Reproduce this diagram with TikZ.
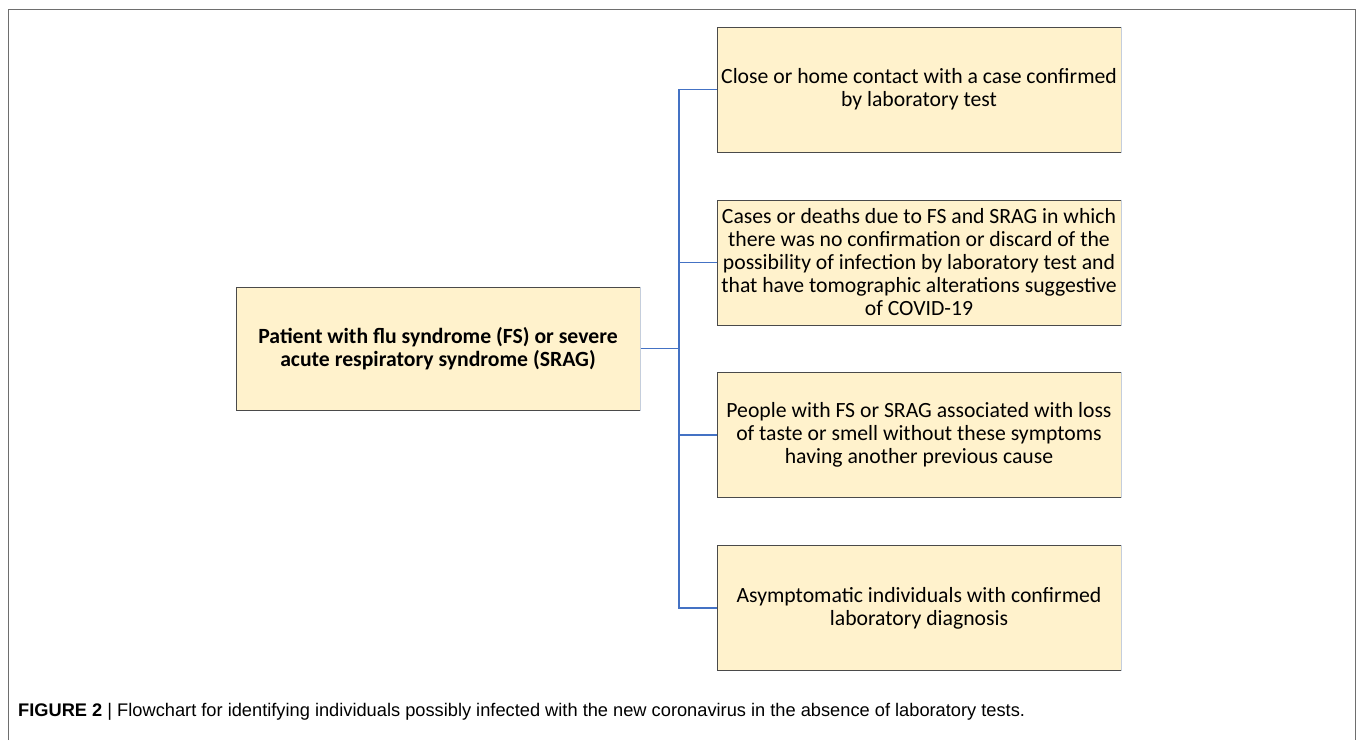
\documentclass[tikz,border=0pt]{standalone}
\usepackage{fontspec}
\setmainfont{Carlito}
\newfontfamily\capfont{Liberation Sans}
\usetikzlibrary{positioning}
\definecolor{boxfill}{HTML}{FFF2CC}
\definecolor{boxedge}{HTML}{4A4A4A}
\definecolor{sideedge}{HTML}{C5CEDC}
\definecolor{linkblue}{HTML}{4472C4}
\definecolor{framegray}{HTML}{6E6E6E}
\tikzset{
 topic/.style={fill=boxfill,draw=boxedge,line width=1pt,minimum width=404pt,
  align=center,inner sep=0pt,font=\fontsize{21.7}{23}\selectfont},
 link/.style={draw=linkblue,line width=1.2pt},
}

\begin{document}
\begin{tikzpicture}[x=1pt,y=-1pt]
 \useasboundingbox (0,0) rectangle (1358,740);
 \draw[framegray,line width=1pt] (8,740)--(8,9)--(1355,9)--(1355,740);
 \node[topic,minimum height=123pt,font=\fontsize{21.7}{23}\selectfont\bfseries] (main) at (438,348.5)
   {Patient with flu syndrome (FS) or severe\\acute respiratory syndrome (SRAG)};
 \node[topic,minimum height=125pt] (c1) at (919,89.5)
   {Close or home contact with a case confirmed\\by laboratory test};
 \node[topic,minimum height=125pt] (c2) at (919,262.5)
   {Cases or deaths due to FS and SRAG in which\\there was no confirmation or discard of the\\
    possibility of infection by laboratory test and\\that have tomographic alterations suggestive\\of COVID-19};
 \node[topic,minimum height=125pt] (c3) at (919,435)
   {People with FS or SRAG associated with loss\\of taste or smell without these symptoms\\having another previous cause};
 \node[topic,minimum height=125pt] (c4) at (919,608)
   {Asymptomatic individuals with confirmed\\laboratory diagnosis};
 % light right edges
 \foreach \b in {main,c1,c2,c3,c4}
  \draw[sideedge,line width=1pt] (\b.north east)--(\b.south east);
 % connectors
 \coordinate (hub) at (679,348.5);
 \draw[link] (main.east)--(hub);
 \foreach \b in {c1,c2,c3,c4}
  \draw[link] (\b.west) -| (hub);
 \node[anchor=west,inner sep=0pt,font=\capfont\fontsize{18.25}{21}\selectfont] (cap) at (18,712)
   {\textbf{FIGURE 2} \textbar\ Flowchart for identifying individuals possibly infected with the new coronavirus in the absence of laboratory tests.};
\end{tikzpicture}
\end{document}
